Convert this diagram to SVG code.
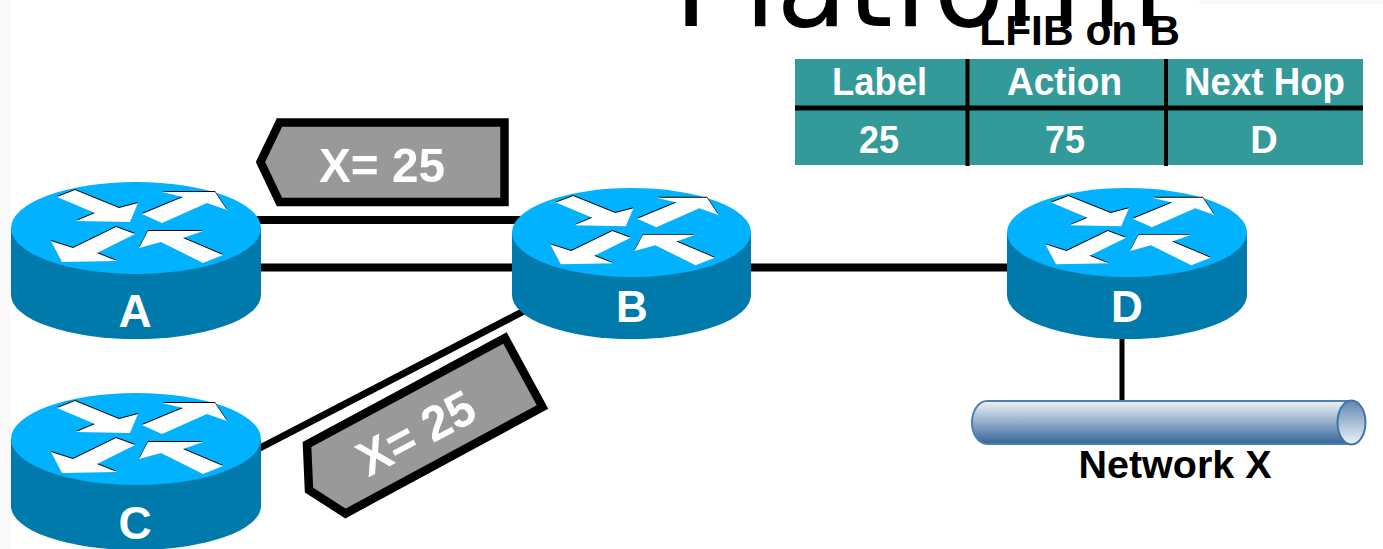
<svg xmlns="http://www.w3.org/2000/svg" xmlns:xlink="http://www.w3.org/1999/xlink" width="1383" height="549" viewBox="0 0 1383 549">
<style>
.side{fill:#0079ab}.top{fill:#00b2ff}
.arw{fill:#fff;stroke:none}.arwk{fill:#000}
.lbl{font-family:"Liberation Sans",Arial,sans-serif;font-weight:bold;fill:#fff;text-anchor:middle}
.blk{font-family:"Liberation Sans",Arial,sans-serif;font-weight:bold;fill:#000;text-anchor:middle}
.ln{stroke:#000;fill:none}
.tag{fill:#999;stroke:#000;stroke-width:8.500}
</style>
<defs>
<linearGradient id="pipe" x1="0" y1="0" x2="0" y2="1"><stop offset="0" stop-color="#f0f3f8"/><stop offset="1" stop-color="#336699"/></linearGradient>
<linearGradient id="pipeEnd" x1="0" y1="0" x2="0" y2="1"><stop offset="0" stop-color="#5f88b2"/><stop offset="1" stop-color="#eef2f7"/></linearGradient>
<g id="arrows">
<g class="arwk" transform="translate(0,-1)">
<polygon points="57,197 75,190 119,208 138,203 130,222 76,221 95,213"/>
<polygon points="142,214 183,197 162,192 215,192 227,210 207,203 162,223"/>
<polygon points="51,241 73,248 116,227 135,234 97,253 117,261 62,262"/>
<polygon points="139,248 148,231 203,231 183,238 223,255 203,263 161,242"/>
</g>
<g class="arw">
<polygon points="57,197 75,190 119,208 138,203 130,222 76,221 95,213"/>
<polygon points="142,214 183,197 162,192 215,192 227,210 207,203 162,223"/>
<polygon points="51,241 73,248 116,227 135,234 97,253 117,261 62,262"/>
<polygon points="139,248 148,231 203,231 183,238 223,255 203,263 161,242"/>
</g>
</g>
</defs>
<rect width="1383" height="549" fill="#fff"/>
<rect width="11" height="549" fill="#f9f9f9"/>
<rect x="1199" width="184" height="4" fill="#f8f8f8"/>
<text x="674" y="26" font-family="'DejaVu Sans',sans-serif" font-size="116" fill="#000">Platform</text>
<g id="connectors">
<line class="ln" x1="255" y1="220" x2="520" y2="220" stroke-width="8"/>
<line class="ln" x1="255" y1="267.500" x2="520" y2="267.500" stroke-width="8"/>
<line class="ln" x1="745" y1="267.500" x2="1012" y2="267.500" stroke-width="8"/>
<line class="ln" x1="258" y1="449" x2="524" y2="311" stroke-width="7"/>
<line class="ln" x1="1122" y1="335" x2="1122" y2="402" stroke-width="5"/>
</g>
<g id="tag-ab">
<polygon class="tag" points="504.500,122.500 279.500,122.500 260.500,162 279.500,202 504.500,202"/>
<text class="lbl" x="382" y="181.500" font-size="49" textLength="126" lengthAdjust="spacingAndGlyphs">X= 25</text>
</g>
<g id="tag-cb">
<polygon class="tag" points="505,338 542.500,407 345.500,513.500 309,490 307,444.500"/>
<text class="lbl" transform="translate(424,448) rotate(-28)" font-size="49" textLength="126" lengthAdjust="spacingAndGlyphs">X= 25</text>
</g>
<g id="router-a">
<path class="side" d="M11,228V295A125,44 0 0 0 261,295V228Z"/>
<ellipse class="top" cx="136" cy="228" rx="125" ry="46"/>
<use xlink:href="#arrows" href="#arrows"/>
<text class="lbl" x="135" y="327" font-size="46">A</text>
</g>
<g id="router-b">
<path class="side" d="M512,232V295A119.500,44 0 0 0 751,295V232Z"/>
<ellipse class="top" cx="631.500" cy="232.500" rx="119.500" ry="44.500"/>
<use xlink:href="#arrows" href="#arrows" transform="translate(631.500,232) scale(.956,.95) translate(-136,-228)"/>
<text class="lbl" x="632" y="322" font-size="44">B</text>
</g>
<g id="router-c">
<path class="side" d="M11,439V506A125,44 0 0 0 261,506V439Z"/>
<ellipse class="top" cx="136" cy="439" rx="125" ry="46"/>
<use xlink:href="#arrows" href="#arrows" transform="translate(0,211)"/>
<text class="lbl" x="135" y="539" font-size="46">C</text>
</g>
<g id="router-d">
<path class="side" d="M1007,232V295A120,44 0 0 0 1247,295V232Z"/>
<ellipse class="top" cx="1127" cy="232.500" rx="120" ry="44.500"/>
<use xlink:href="#arrows" href="#arrows" transform="translate(1127,232) scale(.96,.95) translate(-136,-228)"/>
<text class="lbl" x="1127" y="322" font-size="44">D</text>
</g>
<g id="network-x">
<path d="M987,401H1351V444H987A15,21.500 0 0 1 987,401Z" fill="url(#pipe)" stroke="#4f7fae" stroke-width="2"/>
<ellipse cx="1351.500" cy="422.500" rx="14" ry="22" fill="url(#pipeEnd)" stroke="#3f75aa" stroke-width="2"/>
<text class="blk" x="1175" y="478" font-size="39.500">Network X</text>
</g>
<g id="lfib">
<text class="blk" x="1079.500" y="45" font-size="42.500">LFIB on B</text>
<rect x="795" y="59" width="568" height="106" fill="#339999"/>
<line class="ln" x1="795" y1="108" x2="1363" y2="108" stroke-width="5"/>
<line class="ln" x1="967.500" y1="59" x2="967.500" y2="166" stroke-width="4"/>
<line class="ln" x1="1166" y1="59" x2="1166" y2="166" stroke-width="4"/>
<text class="lbl" x="879.500" y="95" font-size="38" textLength="95" lengthAdjust="spacingAndGlyphs">Label</text>
<text class="lbl" x="1064.500" y="95" font-size="38" textLength="115" lengthAdjust="spacingAndGlyphs">Action</text>
<text class="lbl" x="1264.500" y="95" font-size="38" textLength="161" lengthAdjust="spacingAndGlyphs">Next Hop</text>
<text class="lbl" x="879" y="153" font-size="38" textLength="40" lengthAdjust="spacingAndGlyphs">25</text>
<text class="lbl" x="1065" y="153" font-size="38" textLength="40" lengthAdjust="spacingAndGlyphs">75</text>
<text class="lbl" x="1264" y="153" font-size="38">D</text>
</g>
</svg>
